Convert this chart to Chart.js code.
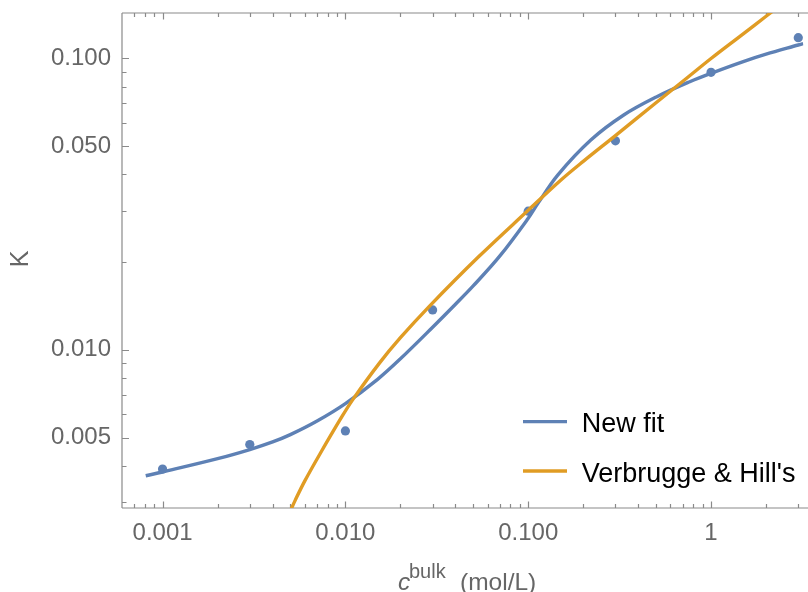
<!DOCTYPE html>
<html><head><meta charset="utf-8">
<script src="https://cdn.jsdelivr.net/npm/chart.js@4/dist/chart.umd.min.js"></script>
<style>html,body{margin:0;padding:0;background:#fff;overflow:hidden}</style>
</head><body>
<canvas id="c" width="808" height="592"></canvas>
<script>
// measured data points
const sampleConc = [0.001, 0.003, 0.01, 0.03, 0.1, 0.3, 1, 3];
const sampleK    = [0.0039, 0.00473, 0.00527, 0.0137, 0.0299, 0.0521, 0.0895, 0.1177];

// "New fit" curve
const newFitConc = [0.000809, 0.001, 0.002, 0.003, 0.004, 0.005, 0.007, 0.01, 0.015, 0.02, 0.03, 0.04, 0.05, 0.07, 0.1, 0.113, 0.145, 0.22, 0.333, 0.505, 0.765, 1, 1.5, 2, 3, 3.19];
const newFitK    = [0.003697, 0.003809, 0.004231, 0.004547, 0.004829, 0.005116, 0.005697, 0.006537, 0.007918, 0.009313, 0.011948, 0.014328, 0.016558, 0.020989, 0.028257, 0.03178, 0.03975, 0.05243, 0.06388, 0.07381, 0.08311, 0.08882, 0.09743, 0.1033, 0.11106, 0.1123];

// "Verbrugge & Hill's" curve
const vhConc = [0.005, 0.00532, 0.006, 0.00727, 0.00953, 0.011, 0.01535, 0.02, 0.0286, 0.0535, 0.1, 0.15, 0.2, 0.3, 0.5, 0.735, 1, 1.5, 2, 2.55];
const vhK    = [0.0028, 0.00305, 0.00355, 0.0044, 0.00587, 0.00676, 0.0090, 0.0110, 0.01404, 0.02084, 0.0301, 0.0381, 0.0443, 0.0543, 0.0704, 0.0854, 0.0998, 0.1213, 0.1394, 0.1568];

const seriesNames = ['New fit', "Verbrugge & Hill's"];
const xTickValues = [0.001, 0.01, 0.1, 1];
const xTickLabels = ['0.001', '0.010', '0.100', '1'];
const yTickValues = [0.005, 0.01, 0.05, 0.1];
const yTickLabels = ['0.005', '0.010', '0.050', '0.100'];
const xRange = [0.000615, 3.2];
const yRange = [0.002866, 0.143];

const C_BLUE = '#5E81B5', C_ORANGE = '#E09C24';
const FONT = '"Liberation Sans", Arial, Helvetica, sans-serif';
const FRAME = '#8a8a8a';
const TXT = '#666666';

function pairs(xs, ys) { return xs.map((x, i) => ({x: x, y: ys[i]})); }

function logTicks(min, max) {
  const out = [];
  for (let e = -5; e <= 2; e++) {
    for (let m = 1; m <= 9; m++) {
      const v = parseFloat((m * Math.pow(10, e)).toPrecision(6));
      if (v >= min && v <= max) out.push(v);
    }
  }
  return out;
}
function isMajor(v, majors) { return majors.some(m => Math.abs(m - v) / m < 1e-6); }

const decor = {
  id: 'decor',
  beforeDatasetsDraw(chart) {
    const ctx = chart.ctx, a = chart.chartArea, sx = chart.scales.x, sy = chart.scales.y;
    ctx.save();
    ctx.strokeStyle = FRAME;
    ctx.lineWidth = 1.2;
    ctx.beginPath();
    ctx.moveTo(a.left, a.top); ctx.lineTo(a.right + 5, a.top);
    ctx.moveTo(a.left, a.top); ctx.lineTo(a.left, a.bottom);
    ctx.moveTo(a.left, a.bottom); ctx.lineTo(a.right + 5, a.bottom);
    logTicks(xRange[0], xRange[1]).forEach(v => {
      const px = Math.round(sx.getPixelForValue(v)) + 0.5;
      const maj = isMajor(v, xTickValues);
      ctx.moveTo(px, a.bottom); ctx.lineTo(px, a.bottom - (maj ? 6.5 : 4));
      ctx.moveTo(px, a.top); ctx.lineTo(px, a.top + (maj ? 6.5 : 4));
    });
    logTicks(yRange[0], yRange[1]).forEach(v => {
      const py = Math.round(sy.getPixelForValue(v)) + 0.5;
      const maj = isMajor(v, yTickValues);
      ctx.moveTo(a.left, py); ctx.lineTo(a.left + (maj ? 7 : 4.5), py);
    });
    ctx.stroke();
    ctx.restore();
  },
  afterDraw(chart) {
    const ctx = chart.ctx;
    ctx.save();
    ctx.fillStyle = TXT;
    ctx.translate(21, 259);
    ctx.rotate(-Math.PI / 2);
    ctx.textAlign = 'center';
    ctx.textBaseline = 'middle';
    ctx.font = '25px ' + FONT;
    ctx.fillText('K', 0, 0);
    ctx.restore();

    ctx.save();
    ctx.fillStyle = TXT;
    ctx.textAlign = 'left';
    ctx.textBaseline = 'alphabetic';
    ctx.font = 'italic 24.5px ' + FONT;
    ctx.fillText('c', 398, 590);
    ctx.font = '20px ' + FONT;
    ctx.fillText('bulk', 409, 577.5);
    ctx.font = '24.5px ' + FONT;
    ctx.fillText('(mol/L)', 460, 590);

    const rows = [[C_BLUE, 421.7, 431.7], [C_ORANGE, 471, 481.5]];
    rows.forEach((r, i) => {
      ctx.strokeStyle = r[0];
      ctx.lineWidth = 3.3;
      ctx.beginPath();
      ctx.moveTo(523, r[1]); ctx.lineTo(567, r[1]);
      ctx.stroke();
      ctx.fillStyle = '#000';
      ctx.font = '27px ' + FONT;
      ctx.fillText(seriesNames[i], 581.7, r[2]);
    });
    ctx.restore();
  }
};

new Chart(document.getElementById('c'), {
  type: 'scatter',
  data: {
    datasets: [
      {label: seriesNames[1], data: pairs(vhConc, vhK), showLine: true, borderColor: C_ORANGE, borderWidth: 3.4,
       pointRadius: 0, tension: 0.35, order: 1},
      {label: seriesNames[0], data: pairs(newFitConc, newFitK), showLine: true, borderColor: C_BLUE, borderWidth: 3.4,
       pointRadius: 0, tension: 0.35, order: 2},
      {label: 'data', data: pairs(sampleConc, sampleK), showLine: false, backgroundColor: C_BLUE, borderWidth: 0,
       pointRadius: 4.6, order: 3}
    ]
  },
  options: {
    responsive: false,
    animation: false,
    devicePixelRatio: 1,
    layout: {padding: {left: 0, right: 0, top: 13, bottom: 0}},
    plugins: {legend: {display: false}, tooltip: {enabled: false}},
    events: [],
    scales: {
      x: {
        type: 'logarithmic', position: 'bottom', min: xRange[0], max: xRange[1],
        grid: {display: false, drawTicks: false}, border: {display: false},
        ticks: {font: {family: FONT, size: 24}, color: TXT, padding: 11, autoSkip: false, maxRotation: 0,
          callback: (v) => { const i = xTickValues.findIndex(t => Math.abs(t - v) / t < 1e-6); return i >= 0 ? xTickLabels[i] : ''; }},
        afterBuildTicks: (s) => { s.ticks = xTickValues.map(v => ({value: v})); },
        afterFit: (s) => { s.height = 84; s.paddingLeft = 0; s.paddingRight = 0; }
      },
      y: {
        type: 'logarithmic', position: 'left', min: yRange[0], max: yRange[1],
        grid: {display: false, drawTicks: false}, border: {display: false},
        ticks: {font: {family: FONT, size: 24}, color: TXT, padding: 11, autoSkip: false,
          callback: (v) => { const i = yTickValues.findIndex(t => Math.abs(t - v) / t < 1e-6); return i >= 0 ? yTickLabels[i] : ''; }},
        afterBuildTicks: (s) => { s.ticks = yTickValues.map(v => ({value: v})); },
        afterFit: (s) => { s.width = 122; s.paddingTop = 0; s.paddingBottom = 0; }
      }
    }
  },
  plugins: [decor]
});
</script>
</body></html>
